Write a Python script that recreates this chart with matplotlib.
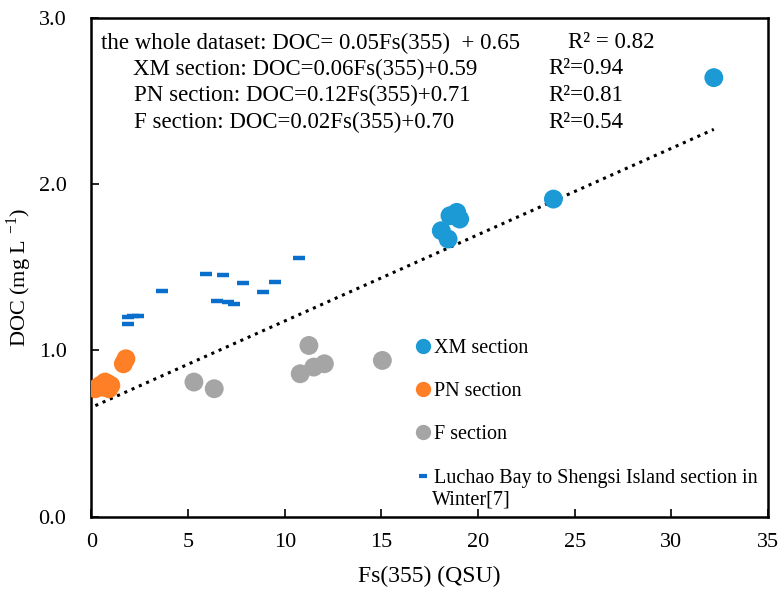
import matplotlib
matplotlib.use("Agg")
import matplotlib.pyplot as plt
from matplotlib.lines import Line2D

plt.rcParams["font.family"] = ["Liberation Serif", "DejaVu Serif"]
plt.rcParams["mathtext.fontset"] = "custom"
plt.rcParams["mathtext.rm"] = "Liberation Serif"

# XM section
xm_fs = [32.2, 23.9, 18.9, 18.55, 19.05, 18.1, 18.45]
xm_doc = [2.64, 1.91, 1.83, 1.81, 1.79, 1.72, 1.67]

# PN section
pn_fs = [1.65, 1.78, 0.2, 0.45, 0.6, 0.7, 0.85, 1.0, 0.9]
pn_doc = [0.92, 0.95, 0.77, 0.79, 0.78, 0.81, 0.80, 0.79, 0.77]

# F section
f_fs = [5.3, 6.35, 11.25, 10.8, 11.5, 12.05, 15.05]
f_doc = [0.81, 0.77, 1.03, 0.86, 0.90, 0.92, 0.94]

# Luchao Bay to Shengsi Island section in Winter[7]
lc_fs = [1.9, 1.9, 2.16, 2.42, 3.66, 5.9, 6.82, 6.47, 7.06, 7.35, 7.83, 8.87, 9.5, 10.73]
lc_doc = [1.16, 1.20, 1.21, 1.205, 1.355, 1.46, 1.455, 1.297, 1.291, 1.281, 1.407, 1.349, 1.413, 1.557]

# whole dataset trend line: DOC = slope * Fs(355) + intercept
trend_slope = 0.0519
trend_intercept = 0.658

xticks = [0, 5, 10, 15, 20, 25, 30, 35]
yticks = [0.0, 1.0, 2.0, 3.0]

XM_COLOR = "#1b9ad6"
PN_COLOR = "#ff7f27"
F_COLOR = "#a5a5a5"
LC_COLOR = "#0a6fcc"

fig = plt.figure(figsize=(7.82, 5.92), dpi=100)
ax = fig.add_axes([0.117, 0.127, 0.865, 0.843])

all_fs = xm_fs + pn_fs + f_fs
x0, x1 = min(all_fs), max(all_fs)
ax.plot([x0, x1], [trend_slope * x0 + trend_intercept, trend_slope * x1 + trend_intercept],
        color="black", linestyle=(0, (1, 1.6)), linewidth=2.2, zorder=2)

ax.scatter(lc_fs, lc_doc, marker="_", s=70, linewidths=3.2, color=LC_COLOR, zorder=3)
ax.scatter(f_fs, f_doc, s=185, color=F_COLOR, edgecolors="none", zorder=3)
ax.scatter(pn_fs, pn_doc, s=185, color=PN_COLOR, edgecolors="none", zorder=3)
ax.scatter(xm_fs, xm_doc, s=185, color=XM_COLOR, edgecolors="none", zorder=3)

ax.set_xlim(0, 35)
ax.set_ylim(0, 3.0)
ax.set_xticks(xticks)
ax.set_yticks(yticks)
ax.set_xticklabels([str(t) for t in xticks])
ax.set_yticklabels([f"{t:.1f}" for t in yticks])
ax.tick_params(axis="both", direction="in", length=6, width=1.2, labelsize=16)
ax.tick_params(axis="y", pad=18)
ax.tick_params(axis="x", pad=12)
for sp in ax.spines.values():
    sp.set_linewidth(1.8)

ax.set_xlabel("Fs(355) (QSU)", fontsize=17, labelpad=10)
ax.set_ylabel(r"DOC (mg L $^{-1}$)", fontsize=16)
ax.yaxis.set_label_coords(-0.085, 0.48)

# equations
eq_size = 16.5
fig.text(101 / 782, 1 - 43 / 592, "the whole dataset: DOC= 0.05Fs(355)  + 0.65", fontsize=eq_size, va="center")
fig.text(568 / 782, 1 - 43 / 592, "R² = 0.82", fontsize=eq_size, va="center")
eqs = ["XM section: DOC=0.06Fs(355)+0.59", "PN section: DOC=0.12Fs(355)+0.71",
       "F section: DOC=0.02Fs(355)+0.70"]
r2s = ["R²=0.94", "R²=0.81", "R²=0.54"]
eq_x = [133, 134, 134]
for i, (e, r) in enumerate(zip(eqs, r2s)):
    y = 1 - (69 + 26.5 * i) / 592
    fig.text(eq_x[i] / 782, y, e, fontsize=eq_size, va="center")
    fig.text(548 / 782, y, r, fontsize=eq_size, va="center")

handles = [
    Line2D([], [], marker="o", linestyle="none", markersize=10, color=XM_COLOR),
    Line2D([], [], marker="o", linestyle="none", markersize=10, color=PN_COLOR),
    Line2D([], [], marker="o", linestyle="none", markersize=10, color=F_COLOR),
    Line2D([], [], marker="_", linestyle="none", markersize=6, markeredgewidth=3, color=LC_COLOR),
]
labels = ["XM section", "PN section", "F section", "Luchao Bay to Shengsi Island section in"]
leg = ax.legend(handles, labels, loc="upper left", bbox_to_anchor=(0.469, 0.373),
                frameon=False, fontsize=14.5, handlelength=0.6, handletextpad=0.25,
                labelspacing=1.2, borderaxespad=0)
ax.text(432 / 782, 1 - 500 / 592, "Winter[7]", transform=fig.transFigure, fontsize=14.5, va="center")

fig.savefig("out.png", dpi=100)
